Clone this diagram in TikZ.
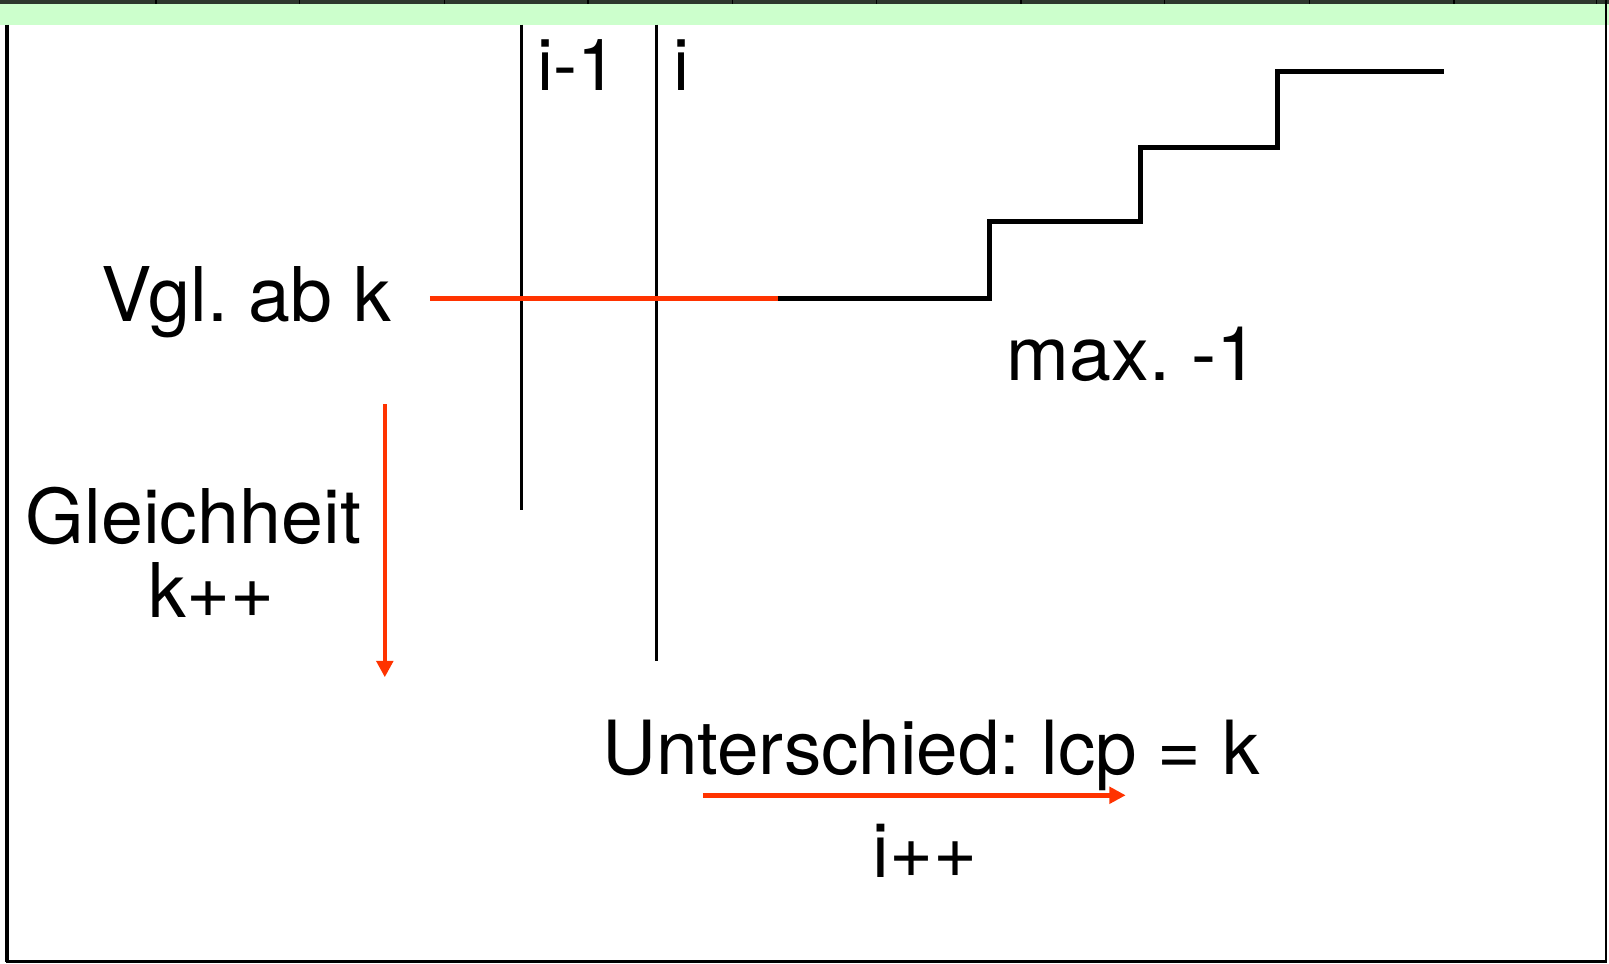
\documentclass[tikz,border=0pt]{standalone}
\usepackage{fontspec}
\setmainfont{TeX Gyre Heros}
\usetikzlibrary{arrows.meta}
\frenchspacing
\definecolor{hotred}{RGB}{255,51,0}
\definecolor{bandgreen}{RGB}{204,255,204}
\definecolor{rulegray}{RGB}{45,55,45}
\tikzset{
  lbl/.style={inner sep=0pt, anchor=base west, font=\fontsize{73.5}{88}\selectfont},
  smalllbl/.style={inner sep=0pt, anchor=base west, font=\fontsize{70}{84}\selectfont},
  divider/.style={line width=2.5pt, black},
  stairs/.style={line width=5pt, black, line join=miter},
  redline/.style={line width=5pt, hotred},
  redarrow/.style={line width=4.5pt, hotred, -{Triangle[width=16pt,length=16pt]}},
  frame/.style={black, line width=2.5pt}
}
\begin{document}
\begin{tikzpicture}[x=1pt,y=-1pt]
\useasboundingbox (0,0) rectangle (1568,939);

% header band with cell dividers
\fill[bandgreen] (0,3) rectangle (1568,24);
\fill[rulegray] (0,0) rectangle (1568,3.5);
\foreach \t in {152,292,433,573,714,854,995,1135,1276,1417,1556}
  \draw[black, line width=1.5pt] (\t,0) -- (\t,3.5);

% outer frame
\draw[frame, line width=3.5pt] (7,24) -- (7,937.5);
\draw[frame] (5.5,937) -- (1565,937);
\draw[frame] (1565,0) -- (1565,938);

% index dividers
\coordinate (prevtop) at (508,24);
\coordinate (prevbot) at (508,497);
\coordinate (curtop) at (640,24);
\coordinate (curbot) at (640,644);
\draw[divider] (prevtop) -- (prevbot);
\draw[divider] (curtop) -- (curbot);
\node[smalllbl] (lprev) at (524,88) {i-1};
\node[smalllbl] (lcur) at (656,88) {i};

% comparison level and staircase of lcp values
\coordinate (cmpstart) at (419,291);
\coordinate (cmpend) at (758,291);
\draw[redline] (cmpstart) -- (cmpend);
\draw[stairs] (cmpend) -- (964,291) -- (964,216) -- (1111,216) -- (1111,144)
  -- (1245,144) -- (1245,70) -- (1407,70);

\node[lbl] (vgl) at (99,313) {Vgl. ab k};
\node[lbl] (maxm) at (981,371) {max. -1};

% equality: k grows
\coordinate (eqtop) at (375,394);
\coordinate (eqbot) at (375,660);
\draw[redarrow] (eqtop) -- (eqbot);
\node[lbl] (gleich) at (25,530) {Gleichheit};
\node[lbl] (kpp) at (145,602) {k++};

% difference: i advances
\node[lbl, font=\fontsize{72.8}{88}\selectfont] (unter) at (587,755) {Unterschied: lcp = k};
\coordinate (diffl) at (685,775);
\coordinate (diffr) at (1097,775);
\draw[redarrow] (diffl) -- (diffr);
\node[lbl] (ipp) at (850,855) {i++};
\end{tikzpicture}
\end{document}
